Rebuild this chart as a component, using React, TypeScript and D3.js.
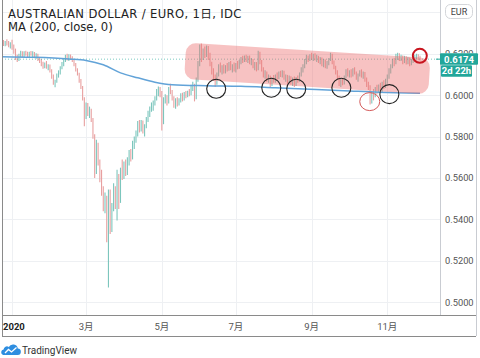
import React from "react";
import * as d3 from "d3";

// ---- OHLC data, [open, high, low, close], one row per trading day ----
const dec2019: number[][] = [
  [.6175,.6262,.6130,.6240],[.6240,.6258,.6228,.6250],[.6250,.6266,.6238,.6245],[.6245,.6262,.6236,.6255],
  [.6255,.6270,.6240,.6248],[.6248,.6262,.6232,.6238],[.6238,.6256,.6225,.6250],
];
const jan2020: number[][] = [
  [.6250,.6268,.6220,.6228],[.6228,.6245,.6200,.6210],[.6210,.6225,.6170,.6180],[.6180,.6195,.6160,.6172],
  [.6172,.6200,.6165,.6195],[.6195,.6215,.6185,.6205],[.6205,.6212,.6185,.6192],[.6192,.6212,.6182,.6203],
  [.6203,.6215,.6190,.6198],[.6198,.6210,.6180,.6188],[.6188,.6210,.6182,.6205],[.6205,.6214,.6190,.6196],
  [.6196,.6212,.6184,.6200],[.6200,.6208,.6178,.6185],[.6185,.6202,.6176,.6195],[.6195,.6200,.6165,.6172],
  [.6172,.6185,.6155,.6160],[.6160,.6175,.6140,.6150],[.6150,.6162,.6128,.6140],[.6140,.6158,.6130,.6152],
  [.6152,.6165,.6128,.6135],[.6135,.6150,.6120,.6142],[.6142,.6148,.6110,.6118],
];
const feb2020: number[][] = [
  [.6118,.6125,.6080,.6090],[.6090,.6100,.6050,.6060],[.6060,.6075,.6038,.6068],[.6068,.6105,.6060,.6098],
  [.6098,.6120,.6085,.6112],[.6112,.6140,.6100,.6132],[.6132,.6160,.6125,.6150],[.6150,.6180,.6140,.6172],
  [.6172,.6195,.6160,.6188],[.6188,.6200,.6168,.6175],[.6175,.6198,.6165,.6190],[.6190,.6196,.6172,.6180],
  [.6180,.6188,.6160,.6165],[.6165,.6172,.6140,.6148],[.6148,.6155,.6115,.6120],[.6120,.6130,.6095,.6100],
  [.6100,.6108,.6060,.6068],[.6068,.6078,.6030,.6040],[.6040,.6045,.5975,.5985],[.5985,.5990,.5850,.5900],
];
const mar2020: number[][] = [
  [.5900,.5965,.5885,.5950],[.5950,.5962,.5900,.5915],[.5915,.5945,.5890,.5930],[.5930,.5935,.5870,.5880],
  [.5880,.5890,.5790,.5805],[.5805,.5812,.5600,.5625],[.5625,.5785,.5620,.5760],[.5760,.5770,.5660,.5680],
  [.5680,.5690,.5580,.5600],[.5600,.5640,.5515,.5535],[.5535,.5560,.5440,.5470],[.5470,.5530,.5430,.5510],
  [.5510,.5515,.5290,.5330],[.5330,.5545,.5072,.5420],[.5420,.5545,.5330,.5380],[.5380,.5480,.5340,.5460],
  [.5460,.5575,.5440,.5540],[.5540,.5560,.5450,.5480],[.5480,.5640,.5395,.5610],[.5610,.5620,.5450,.5500],
  [.5500,.5650,.5480,.5630],[.5630,.5690,.5590,.5610],
];
const apr2020: number[][] = [
  [.5610,.5680,.5595,.5665],[.5665,.5690,.5610,.5625],[.5625,.5700,.5615,.5690],[.5690,.5735,.5660,.5720],
  [.5720,.5740,.5680,.5700],[.5700,.5780,.5690,.5765],[.5765,.5800,.5740,.5790],[.5790,.5830,.5770,.5815],
  [.5815,.5875,.5800,.5860],[.5860,.5880,.5820,.5835],[.5835,.5880,.5825,.5870],[.5870,.5878,.5815,.5825],
  [.5825,.5860,.5800,.5850],[.5850,.5895,.5840,.5885],[.5885,.5925,.5870,.5910],[.5910,.5945,.5895,.5935],
  [.5935,.5965,.5920,.5950],[.5950,.5975,.5925,.5968],[.5968,.5995,.5950,.5985],[.5985,.6030,.5975,.6020],
  [.6020,.6042,.5995,.6035],[.6035,.6040,.5990,.6000],
];
const may2020: number[][] = [
  [.6000,.6020,.5830,.5870],[.5870,.5990,.5860,.5975],[.5975,.6005,.5960,.5990],[.5990,.6000,.5950,.5965],
  [.5965,.6040,.5960,.6030],[.6030,.6055,.6005,.6015],[.6015,.6025,.5975,.5985],[.5985,.5995,.5940,.5955],
  [.5955,.5985,.5935,.5975],[.5975,.5990,.5945,.5960],[.5960,.5985,.5950,.5978],[.5978,.6010,.5965,.6000],
  [.6000,.6012,.5970,.5980],[.5980,.6015,.5975,.6005],[.6005,.6020,.5985,.5995],[.5995,.6022,.5990,.6015],
  [.6015,.6030,.5995,.6005],[.6005,.6050,.6000,.6040],[.6040,.6065,.6020,.6050],[.6050,.6055,.5970,.5985],
  [.5985,.6085,.5980,.6075],
];
const jun2020: number[][] = [
  [.6075,.6165,.6065,.6150],[.6150,.6245,.6140,.6230],[.6230,.6250,.6160,.6180],[.6180,.6225,.6170,.6210],
  [.6210,.6235,.6180,.6195],[.6195,.6240,.6185,.6230],[.6230,.6238,.6170,.6180],[.6180,.6205,.6140,.6150],
  [.6150,.6162,.6100,.6110],[.6110,.6130,.6070,.6085],[.6085,.6100,.6040,.6060],[.6060,.6110,.6050,.6100],
  [.6100,.6150,.6090,.6140],[.6140,.6158,.6110,.6120],[.6120,.6145,.6100,.6135],[.6135,.6150,.6105,.6115],
  [.6115,.6145,.6105,.6138],[.6138,.6155,.6115,.6125],[.6125,.6160,.6118,.6150],[.6150,.6165,.6120,.6128],
  [.6128,.6150,.6110,.6142],[.6142,.6158,.6115,.6120],
];
const jul2020: number[][] = [
  [.6120,.6155,.6110,.6148],[.6148,.6165,.6125,.6135],[.6135,.6170,.6128,.6162],[.6162,.6185,.6150,.6175],
  [.6175,.6190,.6155,.6165],[.6165,.6192,.6160,.6185],[.6185,.6195,.6160,.6170],[.6170,.6190,.6155,.6182],
  [.6182,.6192,.6150,.6160],[.6160,.6180,.6145,.6170],[.6170,.6175,.6130,.6140],[.6140,.6160,.6120,.6152],
  [.6152,.6160,.6115,.6125],[.6125,.6215,.6120,.6200],[.6200,.6210,.6150,.6160],[.6160,.6170,.6115,.6125],
  [.6125,.6135,.6085,.6095],[.6095,.6120,.6080,.6110],[.6110,.6115,.6065,.6075],[.6075,.6100,.6060,.6090],
  [.6090,.6095,.6040,.6055],[.6055,.6085,.6045,.6078],[.6078,.6098,.6060,.6070],
];
const aug2020: number[][] = [
  [.6070,.6100,.6060,.6092],[.6092,.6110,.6075,.6085],[.6085,.6115,.6078,.6105],[.6105,.6118,.6088,.6095],
  [.6095,.6120,.6085,.6112],[.6112,.6118,.6075,.6082],[.6082,.6100,.6065,.6090],[.6090,.6098,.6055,.6065],
  [.6065,.6095,.6058,.6088],[.6088,.6092,.6050,.6060],[.6060,.6085,.6045,.6078],[.6078,.6090,.6040,.6055],
  [.6055,.6088,.6045,.6082],[.6082,.6095,.6060,.6070],[.6070,.6110,.6065,.6100],[.6100,.6135,.6090,.6125],
  [.6125,.6150,.6110,.6140],[.6140,.6175,.6130,.6165],[.6165,.6195,.6150,.6185],[.6185,.6192,.6160,.6170],
  [.6170,.6198,.6165,.6190],
];
const sep2020: number[][] = [
  [.6190,.6205,.6170,.6178],[.6178,.6200,.6165,.6195],[.6195,.6202,.6168,.6175],[.6175,.6195,.6160,.6185],
  [.6185,.6190,.6155,.6165],[.6165,.6185,.6150,.6178],[.6178,.6182,.6140,.6150],[.6150,.6175,.6135,.6168],
  [.6168,.6172,.6130,.6140],[.6140,.6165,.6128,.6158],[.6158,.6180,.6145,.6172],[.6172,.6205,.6165,.6195],
  [.6195,.6200,.6150,.6160],[.6160,.6168,.6125,.6135],[.6135,.6142,.6100,.6110],[.6110,.6120,.6075,.6085],
  [.6085,.6095,.6045,.6060],[.6060,.6080,.6040,.6072],[.6072,.6082,.6048,.6058],[.6058,.6095,.6052,.6090],
  [.6090,.6125,.6082,.6118],[.6118,.6130,.6090,.6100],
];
const oct2020: number[][] = [
  [.6100,.6120,.6085,.6112],[.6112,.6125,.6085,.6095],[.6095,.6130,.6090,.6122],[.6122,.6135,.6100,.6108],
  [.6108,.6115,.6075,.6085],[.6085,.6105,.6065,.6098],[.6098,.6120,.6090,.6112],[.6112,.6125,.6085,.6095],
  [.6095,.6115,.6080,.6108],[.6108,.6112,.6065,.6075],[.6075,.6085,.6040,.6050],[.6050,.6065,.6025,.6040],
  [.6040,.6048,.5955,.5985],[.5985,.6020,.5960,.6010],[.6010,.6030,.5975,.5995],[.5995,.6040,.5990,.6030],
  [.6030,.6050,.6005,.6018],[.6018,.6052,.6010,.6045],[.6045,.6060,.6010,.6025],[.6025,.6065,.6015,.6055],
  [.6055,.6072,.6030,.6045],[.6045,.6080,.6035,.6070],
];
const nov2020: number[][] = [
  [.6070,.6100,.6055,.6090],[.6090,.6130,.6080,.6120],[.6120,.6150,.6105,.6140],[.6140,.6175,.6130,.6165],
  [.6165,.6180,.6140,.6155],[.6155,.6200,.6150,.6190],[.6190,.6205,.6170,.6198],[.6198,.6202,.6165,.6175],
  [.6175,.6195,.6165,.6185],[.6185,.6192,.6150,.6160],[.6160,.6190,.6155,.6182],[.6182,.6188,.6148,.6158],
  [.6158,.6185,.6150,.6178],[.6178,.6182,.6140,.6150],[.6150,.6175,.6145,.6168],[.6168,.6180,.6155,.6172],
  [.6172,.6195,.6165,.6188],[.6188,.6200,.6175,.6192],[.6192,.6198,.6170,.6180],[.6180,.6190,.6168,.6174],
];

// MA(200) read at sampled bars
const maBars = [0, 20, 40, 50, 60, 70, 80, 90, 100, 120, 140, 160, 180, 200, 220, 244];
const maValues = [.6186, .6183, .6175, .6168, .6147, .6108, .6084, .6063, .6051, .6046, .6043, .6036, .6029, .6022, .6014, .6010];

const priceTicks = [0.5, 0.52, 0.54, 0.56, 0.58, 0.6, 0.62];
const extraGridPrices = [0.64];
const monthTickMonths = [0, 2, 4, 6, 8, 10];
const monthTickLabels = ["2020", "3月", "5月", "7月", "9月", "11月"];
const lastPrice = 0.6174;
const countdownText = "2d 22h";
const titleText = "AUSTRALIAN DOLLAR / EURO, 1日, IDC";
const maText = "MA (200, close, 0)";

// annotations (bar position, price)
const supportBars = [125.6, 157.6, 172.1, 198.3, 226.2];
const supportPrices = [.6031, .6036, .6031, .6036, .6005];
const falseBreakBar = 214.8, falseBreakPrice = .5969;
const lastMarkBar = 243.9, lastMarkPrice = .6190;
const bandStart = { bar: 107.6, top: .6253, bottom: .6080 };
const bandEnd = { bar: 249.4, top: .6181, bottom: .6002 };

const ohlc = [...dec2019, ...jan2020, ...feb2020, ...mar2020, ...apr2020, ...may2020, ...jun2020, ...jul2020, ...aug2020, ...sep2020, ...oct2020, ...nov2020];

const dates: Date[] = (() => {
  const out: Date[] = [];
  const d = new Date(2019, 11, 23);
  while (out.length < ohlc.length) {
    const wd = d.getDay();
    if (wd !== 0 && wd !== 6) out.push(new Date(d));
    d.setDate(d.getDate() + 1);
  }
  return out;
})();

const W = 480, H = 358;
const PLOT_L = 2, PLOT_R = 440, PLOT_B = 315, AXIS_B = 336, FRAME_R = 476;
const FONT = "Roboto, 'Noto Sans CJK JP', sans-serif";
const LEGEND_FONT = "'DejaVu Sans', 'Noto Sans CJK JP', sans-serif";
const UP = "#7cc6bd", DOWN = "#e8a0a0", TEAL = "#22a69a";

export default function App() {
  const x = d3.scaleLinear().domain([0, ohlc.length - 1]).range([0, 420]);
  const y = d3.scaleLinear().domain([0.5, 0.6]).range([302.3, 95.2]);

  const monthIdx = monthTickMonths.map((m) => dates.findIndex((dt) => dt.getFullYear() === 2020 && dt.getMonth() === m));

  const maPath = d3.line<number>()
    .x((_, k) => x(maBars[k]))
    .y((v) => y(v))
    .curve(d3.curveMonotoneX)(maValues) || "";

  // band geometry
  const c1x = x(bandStart.bar), c1y = (y(bandStart.top) + y(bandStart.bottom)) / 2;
  const c2x = x(bandEnd.bar), c2y = (y(bandEnd.top) + y(bandEnd.bottom)) / 2;
  const ang = Math.atan2(c2y - c1y, c2x - c1x);
  const len = Math.hypot(c2x - c1x, c2y - c1y);
  const bh = ((y(bandStart.bottom) - y(bandStart.top)) + (y(bandEnd.bottom) - y(bandEnd.top))) / 2 * Math.cos(ang);

  const fmt = d3.format(".4f");
  const boxTop = y(lastPrice) - 6;

  return (
    <svg width={W} height={H} style={{ position: "fixed", left: 0, top: 0, background: "#fff" }} fontFamily={FONT}>
      <defs>
        <clipPath id="plot"><rect x={PLOT_L} y={0} width={PLOT_R - PLOT_L} height={PLOT_B} /></clipPath>
        <clipPath id="aboveBox"><rect x={440} y={0} width={40} height={boxTop} /></clipPath>
      </defs>
      <rect x={0} y={0} width={W} height={H} fill="#fff" />
      <g clipPath="url(#plot)">
        {[...priceTicks, ...extraGridPrices].map((p) => (
          <line key={"h" + p} x1={PLOT_L} x2={PLOT_R} y1={Math.round(y(p)) + 0.5} y2={Math.round(y(p)) + 0.5} stroke="#eef0f3" />
        ))}
        {monthIdx.map((i, k) => (
          <line key={"v" + k} x1={Math.round(x(i)) + 0.5} x2={Math.round(x(i)) + 0.5} y1={0} y2={PLOT_B} stroke="#eef0f3" />
        ))}
        {ohlc.map((b, i) => (
          <line key={i} x1={x(i)} x2={x(i)} y1={y(b[1])} y2={y(b[2])} stroke={b[3] >= b[0] ? UP : DOWN} strokeWidth={1.1} />
        ))}
        <line x1={PLOT_L} x2={PLOT_R} y1={y(lastPrice)} y2={y(lastPrice)} stroke={TEAL} strokeOpacity={0.6} strokeDasharray="1,2" />
        <path d={maPath} fill="none" stroke="#62a3d8" strokeWidth={1.5} />
        <rect x={-len / 2} y={-bh / 2} width={len} height={bh} rx={10} ry={10}
          transform={`translate(${(c1x + c2x) / 2},${(c1y + c2y) / 2}) rotate(${(ang * 180) / Math.PI})`}
          fill="rgb(236,110,110)" fillOpacity={0.42} />
        {supportBars.map((b, k) => (
          <circle key={"c" + k} cx={x(b)} cy={y(supportPrices[k])} r={9.5} fill="none" stroke="#222" strokeWidth={1.1} />
        ))}
        <ellipse cx={x(falseBreakBar)} cy={y(falseBreakPrice)} rx={10} ry={9} fill="none" stroke="#d45a5a" strokeWidth={1} />
        <circle cx={x(lastMarkBar)} cy={y(lastMarkPrice)} r={7} fill="none" stroke="#c8141e" strokeWidth={2} />
      </g>

      {/* frame */}
      <line x1={PLOT_L + 0.5} x2={PLOT_L + 0.5} y1={0} y2={AXIS_B} stroke="#8a8a8a" />
      <line x1={PLOT_R + 0.5} x2={PLOT_R + 0.5} y1={0} y2={PLOT_B} stroke="#c9ccd2" />
      <line x1={PLOT_L} x2={FRAME_R} y1={PLOT_B + 0.5} y2={PLOT_B + 0.5} stroke="#8a8a8a" />
      <line x1={PLOT_L} x2={FRAME_R} y1={AXIS_B + 0.5} y2={AXIS_B + 0.5} stroke="#8a8a8a" />
      <line x1={FRAME_R + 0.5} x2={FRAME_R + 0.5} y1={0} y2={AXIS_B} stroke="#c9ccd2" />

      {/* price axis */}
      {priceTicks.map((p) => (
        <text key={"pt" + p} x={445} y={y(p) + 3.3} fontSize={9.3} fill="#555"
          clipPath={Math.abs(y(p) - y(lastPrice)) < 12 ? "url(#aboveBox)" : undefined}>{fmt(p)}</text>
      ))}
      <line x1={436} x2={440} y1={y(lastPrice)} y2={y(lastPrice)} stroke={TEAL} />
      <rect x={440} y={boxTop} width={38} height={11.5} fill={TEAL} rx={1} />
      <text x={459} y={y(lastPrice) + 3.5} fontSize={9.5} fontWeight="bold" fill="#fff" textAnchor="middle">{fmt(lastPrice)}</text>
      <rect x={441} y={y(lastPrice) + 6.2} width={31} height={11.5} fill={TEAL} rx={1} />
      <text x={456.5} y={y(lastPrice) + 15.2} fontSize={9.5} fontWeight="bold" fill="#fff" textAnchor="middle">{countdownText}</text>

      <rect x={445.5} y={4.5} width={27} height={14} rx={5} fill="#fff" stroke="#d4d6da" />
      <text x={459} y={15} fontSize={9} fill="#444" textAnchor="middle">EUR</text>

      {/* time axis */}
      {monthIdx.map((i, k) => (
        <text key={"mt" + k} x={k === 0 ? PLOT_L + 1 : x(i)} y={329.5} fontSize={9.5}
          fontWeight={k === 0 ? "bold" : "normal"} fill={k === 0 ? "#222" : "#555"}
          textAnchor={k === 0 ? "start" : "middle"}>{monthTickLabels[k]}</text>
      ))}

      {/* legend */}
      <text x={8} y={17.6} fontSize={11.6} fill="#222" fontFamily={LEGEND_FONT} letterSpacing={0.35}>{titleText}</text>
      <text x={8} y={31.3} fontSize={11.6} fill="#222" fontFamily={LEGEND_FONT}>{maText}</text>

      {/* TradingView logo */}
      <path d="M3,355 h14.5 a3.2,3.2 0 0 0 0.3,-6.4 a4.8,4.8 0 0 0 -9,-1.6 a3.3,3.3 0 0 0 -5.2,2.6 a2.8,2.8 0 0 0 -0.6,5.4 z" fill="#2f8ee0" />
      <polyline points="5,353 8.5,349.5 11.5,352 16.5,347.5" fill="none" stroke="#fff" strokeWidth={1.3} />
      <text x={22} y={354} fontSize={10} fill="#333">TradingView</text>
    </svg>
  );
}
